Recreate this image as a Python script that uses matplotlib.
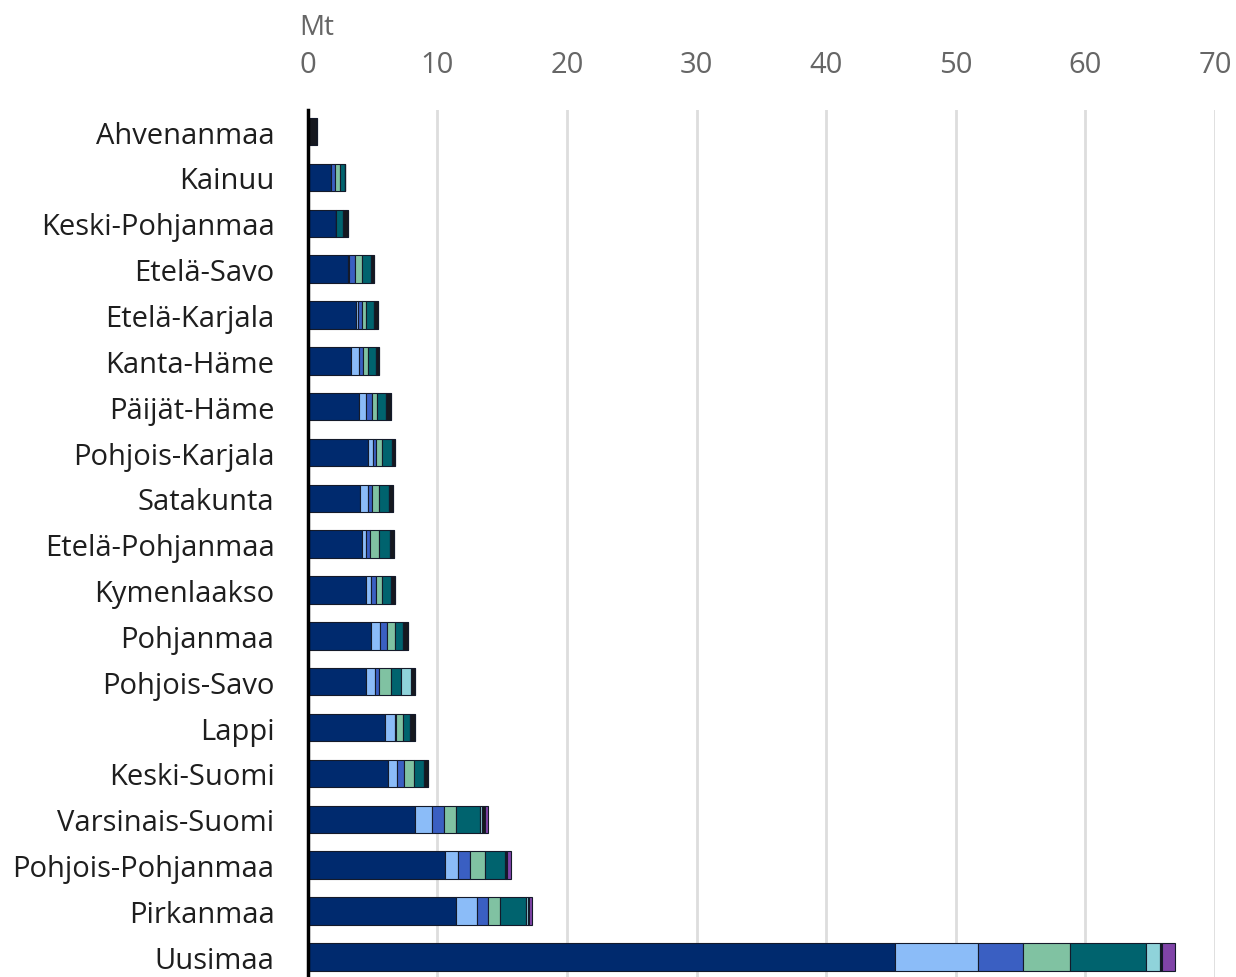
import matplotlib.pyplot as plt
import numpy as np

regions = ['Ahvenanmaa', 'Kainuu', 'Keski-Pohjanmaa', 'Etelä-Savo', 'Etelä-Karjala',
           'Kanta-Häme', 'Päijät-Häme', 'Pohjois-Karjala', 'Satakunta', 'Etelä-Pohjanmaa',
           'Kymenlaakso', 'Pohjanmaa', 'Pohjois-Savo', 'Lappi', 'Keski-Suomi',
           'Varsinais-Suomi', 'Pohjois-Pohjanmaa', 'Pirkanmaa', 'Uusimaa']

# segment values (Mt), one list per component, in region order
navy = [0.0, 1.83, 2.21, 3.11, 3.75, 3.37, 3.96, 4.65, 4.01, 4.22,
        4.47, 4.91, 4.47, 5.94, 6.20, 8.25, 10.57, 11.47, 45.3]
light_blue = [0.0, 0.0, 0.0, 0.10, 0.15, 0.59, 0.57, 0.40, 0.64, 0.26,
              0.44, 0.64, 0.69, 0.77, 0.69, 1.36, 1.03, 1.59, 6.4]
mid_blue = [0.0, 0.26, 0.0, 0.45, 0.25, 0.30, 0.39, 0.25, 0.33, 0.35,
            0.39, 0.57, 0.33, 0.10, 0.51, 0.87, 0.90, 0.85, 3.5]
green = [0.0, 0.39, 0.0, 0.55, 0.35, 0.40, 0.45, 0.45, 0.50, 0.70,
         0.45, 0.62, 0.95, 0.50, 0.80, 0.98, 1.16, 0.95, 3.6]
teal = [0.0, 0.39, 0.50, 0.66, 0.62, 0.60, 0.64, 0.75, 0.80, 0.80,
        0.70, 0.62, 0.77, 0.57, 0.75, 1.80, 1.54, 2.00, 5.9]
cyan = [0.0, 0.0, 0.0, 0.0, 0.0, 0.0, 0.0, 0.0, 0.0, 0.0,
        0.0, 0.0, 0.77, 0.0, 0.0, 0.20, 0.10, 0.13, 1.05]
dark = [0.72, 0.0, 0.40, 0.26, 0.30, 0.26, 0.44, 0.26, 0.33, 0.33,
        0.31, 0.41, 0.26, 0.39, 0.33, 0.20, 0.10, 0.05, 0.15]
purple = [0.0, 0.0, 0.0, 0.0, 0.0, 0.0, 0.0, 0.0, 0.0, 0.0,
          0.0, 0.0, 0.0, 0.0, 0.0, 0.24, 0.25, 0.26, 1.0]

series = [navy, light_blue, mid_blue, green, teal, cyan, dark, purple]
colors = ['#002a6e', '#8bbcf8', '#3a5fc2', '#80c2a2', '#00636e', '#8fd3da', '#16181f', '#8044a8']
ticks = [0, 10, 20, 30, 40, 50, 60, 70]

fig = plt.figure(figsize=(12.36, 9.78), dpi=100)
ax = fig.add_axes([0.249, 0.0, 0.734, 0.886])

y = np.arange(len(regions))
left = np.zeros(len(regions))
for vals, c in zip(series, colors):
    vals = np.array(vals)
    ax.barh(y, vals, left=left, height=0.6, color=c, edgecolor='#141a2a', linewidth=0.8, zorder=3)
    left += vals

ax.set_xlim(0, 70)
ax.set_ylim(len(regions) - 0.56, -0.46)
ax.xaxis.tick_top()
ax.set_xticks(ticks)
ax.set_xticklabels([str(t) for t in ticks])
ax.set_yticks(y)
ax.set_yticklabels(regions)
ax.tick_params(axis='x', length=0, pad=23, labelsize=21, labelcolor='#666666')
ax.tick_params(axis='y', length=0, pad=24, labelsize=21, labelcolor='#1e1e1e')
for lab in ax.get_xticklabels() + ax.get_yticklabels():
    lab.set_fontfamily('Open Sans')

ax.grid(axis='x', color='#dddddd', linewidth=2, zorder=0)
ax.grid(axis='y', visible=False)
for s in ['top', 'right', 'bottom']:
    ax.spines[s].set_visible(False)
ax.spines['left'].set_linewidth(2.5)
ax.spines['left'].set_color('black')
ax.spines['left'].set_zorder(4)

fig.text(0.242, 0.971, 'Mt', fontsize=20, color='#666666', family='Open Sans', va='center', ha='left')

fig.savefig('out.png', dpi=100)
